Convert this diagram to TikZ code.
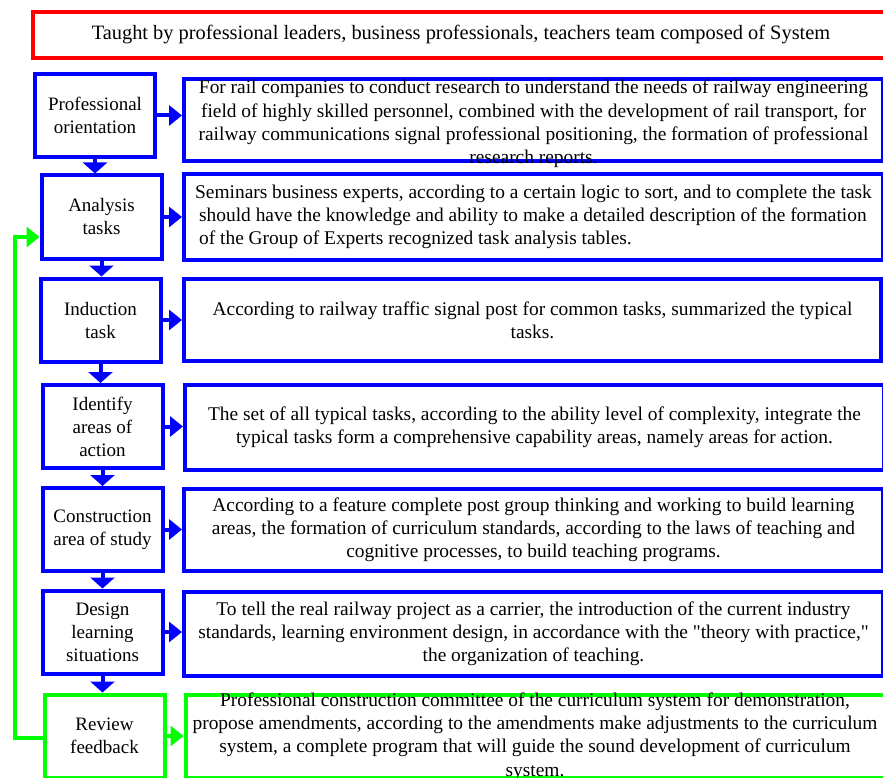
\documentclass[tikz,border=0pt]{standalone}
\usepackage{fontspec}
\setmainfont{Liberation Serif}
\usetikzlibrary{arrows.meta}

\tikzset{
  headbox/.style={draw=red, line width=4pt, minimum width=856pt, minimum height=46pt, inner sep=0pt, font=\fontsize{20.4}{24}\selectfont},
  stepbox/.style={draw=blue, line width=4pt, minimum width=120pt, minimum height=83pt, inner sep=0pt, align=center},
  descbox/.style={draw=blue, line width=4pt, minimum width=699pt, minimum height=82pt, inner sep=0pt},
  desctext/.style={inner sep=0pt, align=center, font=\fontsize{19.4}{23.2}\selectfont},
  flow/.style={blue, line width=4pt, -{Triangle[width=20pt,length=13pt]}},
  downflow/.style={blue, line width=4pt, -{Triangle[width=24pt,length=11pt]}},
  feedline/.style={green, line width=4pt, -{Triangle[width=20pt,length=13pt]}},
}

\begin{document}
\begin{tikzpicture}[x=1pt, y=-1pt, font=\fontsize{19}{23}\selectfont]

  \useasboundingbox (0,0) rectangle (883,778);

  \node[headbox] (top) at (461,35) {Taught by professional leaders, business professionals, teachers team composed of System};

  % Steps on the left
  \node[stepbox] (s1) at (95,115.5) {Professional\\orientation};
  \node[stepbox] (s2) at (101.5,217) {Analysis\\tasks};
  \node[stepbox] (s3) at (100.5,320) {Induction\\task};
  \node[stepbox] (s4) at (102.5,426.5) {Identify\\areas of\\action};
  \node[stepbox] (s5) at (102.5,529.5) {Construction\\area of study};
  \node[stepbox] (s6) at (102.5,632) {Design\\learning\\situations};
  \node[stepbox, draw=green] (s7) at (104.5,736) {Review\\feedback};

  % Descriptions on the right
  \node[descbox] (d1) at (533.5,120) {};
  \node[descbox, minimum height=86pt] (d2) at (533.5,217) {};
  \node[descbox, minimum width=697pt] (d3) at (532.5,320) {};
  \node[descbox, minimum height=85pt] (d4) at (534.5,427.5) {};
  \node[descbox] (d5) at (533.5,530) {};
  \node[descbox, minimum height=84pt] (d6) at (533.5,634) {};
  \node[descbox, draw=green, minimum height=83pt] (d7) at (535,736.5) {};

  \node[desctext, yshift=-4pt] (t1) at (d1.center) {For rail companies to conduct research to understand the needs of railway engineering\\field of highly skilled personnel, combined with the development of rail transport, for\\railway communications signal professional positioning, the formation of professional\\research reports.};
  \node[desctext, align=left] (t2) at (d2.center) {Seminars business experts, according to a certain logic to sort, and to complete the task\\\hspace*{4pt}should have the knowledge and ability to make a detailed description of the formation\\\hspace*{4pt}of the Group of Experts recognized task analysis tables.};
  \node[desctext] (t3) at (d3.center) {According to railway traffic signal post for common tasks, summarized the typical\\tasks.};
  \node[desctext] (t4) at (d4.center) {The set of all typical tasks, according to the ability level of complexity, integrate the\\typical tasks form a comprehensive capability areas, namely areas for action.};
  \node[desctext] (t5) at (d5.center) {According to a feature complete post group thinking and working to build learning\\areas, the formation of curriculum standards, according to the laws of teaching and\\cognitive processes, to build teaching programs.};
  \node[desctext] (t6) at (d6.center) {To tell the real railway project as a carrier, the introduction of the current industry\\standards, learning environment design, in accordance with the \textquotedbl theory with practice,\textquotedbl\\the organization of teaching.};
  \node[desctext] (t7) at (d7.center) {Professional construction committee of the curriculum system for demonstration,\\propose amendments, according to the amendments make adjustments to the curriculum\\system, a complete program that will guide the sound development of curriculum\\system.};

  % Arrows down the steps
  \draw[downflow] (s1.south) -- (s1.south |- s2.north);
  \draw[downflow] (s2.south) -- (s2.south |- s3.north);
  \draw[downflow] (s3.south) -- (s3.south |- s4.north);
  \draw[downflow] (s4.south) -- (s4.south |- s5.north);
  \draw[downflow] (s5.south) -- (s5.south |- s6.north);
  \draw[downflow] (s6.south) -- (s6.south |- s7.north);

  % Arrows from steps to descriptions
  \draw[flow] (s1.east) -- (s1.east -| d1.west);
  \draw[flow] (s2.east) -- (s2.east -| d2.west);
  \draw[flow] (s3.east) -- (s3.east -| d3.west);
  \draw[flow] (s4.east) -- (s4.east -| d4.west);
  \draw[flow] (s5.east) -- (s5.east -| d5.west);
  \draw[flow] (s6.east) -- (s6.east -| d6.west);
  \draw[flow, green] (s7.east) -- (s7.east -| d7.west);

  % Feedback loop
  \draw[feedline] ([yshift=-2pt]s7.west) -- ++(-28,0) |- ([yshift=-20pt]s2.west);

\end{tikzpicture}
\end{document}
